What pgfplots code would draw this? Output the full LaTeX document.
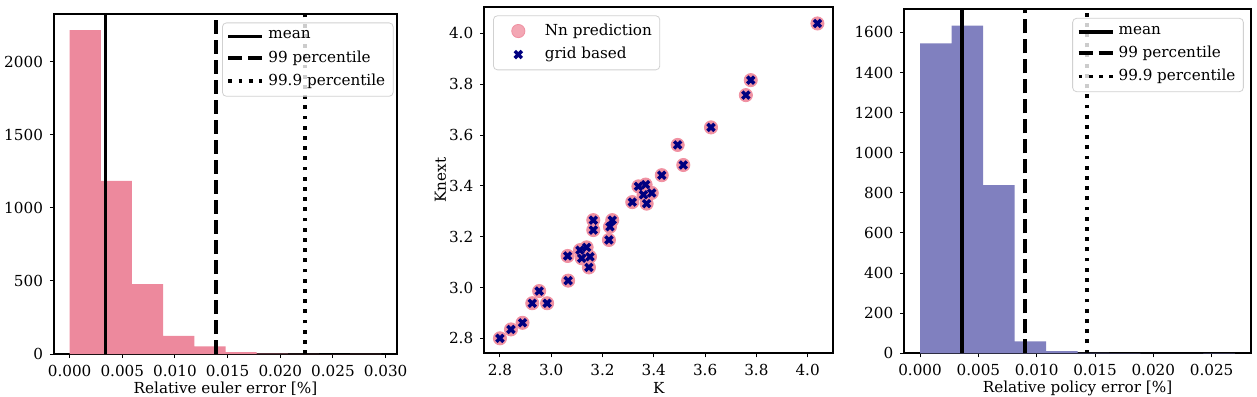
\documentclass[border=0pt]{standalone}
\usepackage{fontspec}
\setmainfont{DejaVu Serif}
\usepackage{pgfplots}
\pgfplotsset{compat=1.18}
\definecolor{histpink}{RGB}{237,137,157}
\definecolor{histblue}{RGB}{128,128,191}
\definecolor{ptpink}{RGB}{240,145,162}
\definecolor{navyx}{RGB}{0,0,128}
\pgfplotsset{
  mystyle/.style={
    scale only axis, anchor=south west,
    axis line style={line width=1pt},
    tick align=outside, tick pos=left,
    major tick length=2pt,
    tick style={line width=0.5pt,black},
    font=\fontsize{7.6}{9}\selectfont,
    /pgf/number format/assume math mode=true,
    /pgf/number format/1000 sep={},
    scaled ticks=false,
    clip=true,
    legend cell align=left,
    xlabel style={at={(axis description cs:0.5,0)}, anchor=center, yshift=-17.5pt},
    legend style={font=\fontsize{7.6}{9}\selectfont, draw=black!18, rounded corners=2pt,
      fill=white, fill opacity=0.8, text opacity=1, inner sep=2pt, row sep=0.3pt,
      /tikz/every even column/.append style={column sep=4pt}},
  },
  vline/.style={black, line width=1.9pt},
}
\begin{document}
\begin{tikzpicture}
\useasboundingbox (0pt,0pt) rectangle (628.5pt,198pt);
% Panel 1
\begin{axis}[mystyle, at={(27pt,21pt)}, width=171.5pt, height=170pt,
  xmin=-0.00148, xmax=0.03108, ymin=0, ymax=2326,
  xtick={0,0.005,0.01,0.015,0.02,0.025,0.03},
  xticklabel style={/pgf/number format/.cd, fixed, fixed zerofill, precision=3},
  ytick={0,500,1000,1500,2000},
  xlabel={Relative euler error [\%]},
  legend style={at={(0.99,0.975)}, anchor=north east}]
\addplot[ybar interval, fill=histpink, draw=none, forget plot] coordinates {
(0,2215) (0.00296,1184) (0.00592,478) (0.00888,124) (0.01184,53) (0.0148,12)
(0.01776,2) (0.02072,1) (0.02368,0) (0.02664,1) (0.0296,1)};
\addplot[vline] coordinates {(0.0034,0) (0.0034,2326)};
\addlegendentry{mean}
\addplot[vline, dash pattern=on 7pt off 3pt] coordinates {(0.01387,0) (0.01387,2326)};
\addlegendentry{99 percentile}
\addplot[vline, dash pattern=on 1.9pt off 3.2pt] coordinates {(0.02238,0) (0.02238,2326)};
\addlegendentry{99.9 percentile}
\end{axis}
% Panel 2
\begin{axis}[mystyle, at={(242.15pt,21.35pt)}, width=174.5pt, height=173.3pt,
  xmin=2.739, xmax=4.10, ymin=2.741, ymax=4.105,
  xtick={2.8,3.0,3.2,3.4,3.6,3.8,4.0},
  ytick={2.8,3.0,3.2,3.4,3.6,3.8,4.0},
  ticklabel style={/pgf/number format/.cd, fixed, fixed zerofill, precision=1},
  xlabel={K}, ylabel={Knext},
  ylabel style={at={(axis description cs:-0.126,0.5)}, anchor=center},
  legend style={at={(0.025,0.975)}, anchor=north west, row sep=0.5pt},
  legend image code/.code={\path (0cm,-0.1cm) (0.75cm,0.1cm); \draw[#1] plot coordinates {(0.36cm,0cm)};}]
\addplot[only marks, mark=*, mark size=3.3pt, draw=ptpink, fill=ptpink, mark options={fill=ptpink, draw=ptpink}] coordinates {
(2.800,2.800) (2.843,2.835) (2.888,2.861) (2.926,2.938) (2.953,2.986) (2.984,2.938)
(3.066,3.027) (3.064,3.124) (3.112,3.147) (3.138,3.158) (3.119,3.115) (3.151,3.121)
(3.147,3.079) (3.164,3.265) (3.164,3.226) (3.238,3.265) (3.229,3.239) (3.225,3.187)
(3.316,3.336) (3.340,3.398) (3.368,3.405) (3.372,3.330) (3.392,3.372) (3.360,3.365)
(3.431,3.442) (3.493,3.561) (3.515,3.482) (3.623,3.630) (3.759,3.757) (3.778,3.816)
(4.038,4.039)};
\addlegendentry{Nn prediction}
\addplot[only marks, mark=x, mark size=2.5pt, draw=navyx, mark options={draw=navyx, line width=1.7pt}] coordinates {
(2.800,2.800) (2.843,2.835) (2.888,2.861) (2.926,2.938) (2.953,2.986) (2.984,2.938)
(3.066,3.027) (3.064,3.124) (3.112,3.147) (3.138,3.158) (3.119,3.115) (3.151,3.121)
(3.147,3.079) (3.164,3.265) (3.164,3.226) (3.238,3.265) (3.229,3.239) (3.225,3.187)
(3.316,3.336) (3.340,3.398) (3.368,3.405) (3.372,3.330) (3.392,3.372) (3.360,3.365)
(3.431,3.442) (3.493,3.561) (3.515,3.482) (3.623,3.630) (3.759,3.757) (3.778,3.816)
(4.038,4.039)};
\addlegendentry{grid based}
\end{axis}
% Panel 3
\begin{axis}[mystyle, at={(452.15pt,21.35pt)}, width=173.2pt, height=172pt,
  xmin=-0.00135, xmax=0.02835, ymin=0, ymax=1715,
  xtick={0,0.005,0.01,0.015,0.02,0.025},
  xticklabel style={/pgf/number format/.cd, fixed, fixed zerofill, precision=3},
  ytick={0,200,400,600,800,1000,1200,1400,1600},
  xlabel={Relative policy error [\%]},
  legend style={at={(0.98,0.975)}, anchor=north east}]
\addplot[ybar interval, fill=histblue, draw=none, forget plot] coordinates {
(0,1545) (0.0027,1633) (0.0054,838) (0.0081,60) (0.0108,11) (0.0135,2)
(0.0162,1) (0.0189,0) (0.0216,0) (0.0243,1) (0.027,1)};
\addplot[vline] coordinates {(0.00363,0) (0.00363,1715)};
\addlegendentry{mean}
\addplot[vline, dash pattern=on 7pt off 3pt] coordinates {(0.00902,0) (0.00902,1715)};
\addlegendentry{99 percentile}
\addplot[vline, dash pattern=on 1.9pt off 3.2pt] coordinates {(0.01429,0) (0.01429,1715)};
\addlegendentry{99.9 percentile}
\end{axis}
\end{tikzpicture}
\end{document}
